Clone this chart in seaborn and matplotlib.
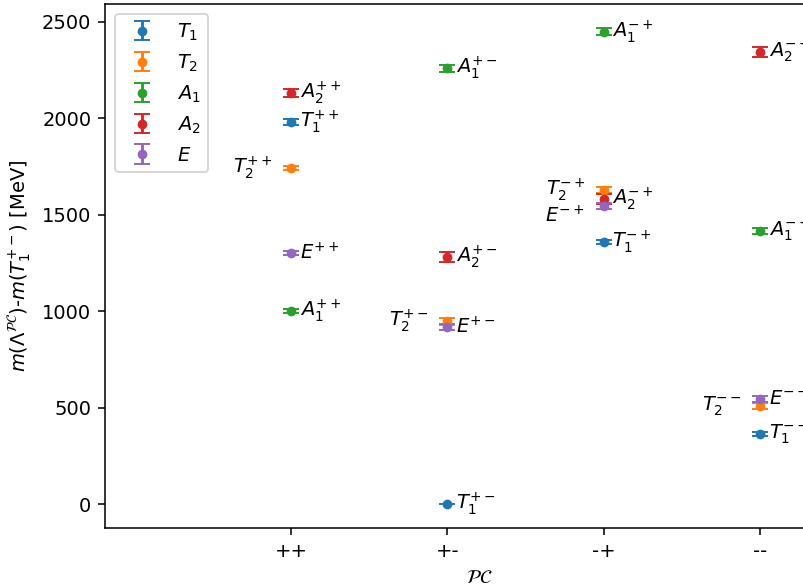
import numpy as np
import matplotlib
matplotlib.use("Agg")
import matplotlib.pyplot as plt
import seaborn as sns

# sectores PC no eixo x
pc_labels = ['++', '+-', '-+', '--']

# massas (MeV) relativas a T1^{+-}, por irrep, na ordem de pc_labels
T1 = [1981, 0, 1359, 363]
T1_err = [16, 0, 10, 10]
T2 = [1743, 949, 1629, 508]
T2_err = [12, 18, 16, 14]
A1 = [1001, 2261, 2448, 1416]
A1_err = [12, 18, 18, 14]
A2 = [2132, 1281, 1582, 2344]
A2_err = [22, 24, 28, 28]
E = [1302, 918, 1546, 545]
E_err = [10, 16, 16, 14]

irreps = ['T_1', 'T_2', 'A_1', 'A_2', 'E']
valores = [T1, T2, A1, A2, E]
erros = [T1_err, T2_err, A1_err, A2_err, E_err]

# rótulos que ficam à esquerda do ponto: (irrep, pc) -> deslocamento vertical
rotulos_esquerda = {('T_2', '++'): 0, ('T_2', '+-'): 0, ('T_2', '-+'): 0,
                    ('E', '-+'): -50, ('T_2', '--'): 0}

cores = sns.color_palette("tab10")

fig = plt.figure(figsize=(803 / 140, 588 / 140), dpi=140)
ax = fig.add_axes([105 / 803, 60 / 588, 749 / 803, 524 / 588])

x = np.arange(len(pc_labels))
for i, (nome, v, e) in enumerate(zip(irreps, valores, erros)):
    ax.errorbar(x, v, yerr=e, fmt='o', color=cores[i], markersize=4,
                capsize=4, label=f'${nome}$')
    for j, pc in enumerate(pc_labels):
        texto = f'${nome}^{{{pc}}}$'
        if (nome, pc) in rotulos_esquerda:
            dy = rotulos_esquerda[(nome, pc)]
            ax.text(x[j] - 0.12, v[j] + dy, texto, ha='right', va='center', fontsize=10)
        else:
            ax.text(x[j] + 0.055, v[j], texto, ha='left', va='center', fontsize=10)

ax.set_xticks(x)
ax.set_xticklabels(pc_labels)
ax.set_xlim(-1.19, 3.6)
ax.set_ylim(-124, 2593)
ax.set_xlabel(r'$\mathcal{PC}$')
ax.set_ylabel(r'$m(\Lambda^{\mathcal{PC}})$-$m(T_1^{+-})$ [MeV]')
ax.legend(loc='upper left')

fig.savefig('out.png', dpi=140)
